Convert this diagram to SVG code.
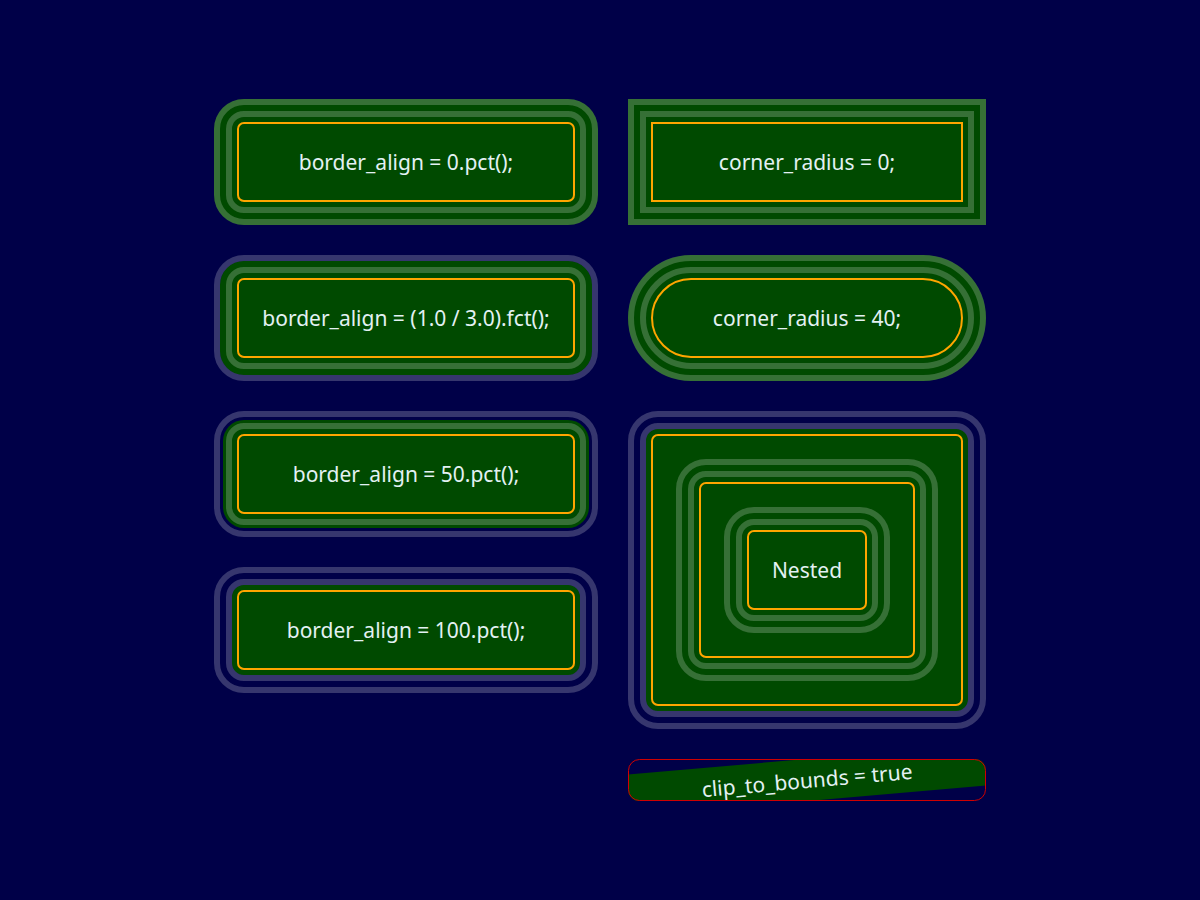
<svg xmlns="http://www.w3.org/2000/svg" width="1200" height="900" viewBox="0 0 1200 900">
<defs>
<style>
.fill{fill:#004a00}
.band{fill:none;stroke:#ffffff;stroke-opacity:0.21;stroke-width:6}
.orange{fill:none;stroke:#ffa500;stroke-width:2}
.label{font-family:"Noto Sans","Open Sans",sans-serif;font-size:21px;fill:#e3f1f3;text-anchor:middle}
</style>
<clipPath id="clipBox">
<rect x="628" y="759" width="358" height="42" rx="11"/>
</clipPath>
</defs>
<rect x="0" y="0" width="1200" height="900" fill="#000048"/>

<g id="align-0">
<rect class="fill" x="214" y="99" width="384" height="126" rx="30"/>
<rect class="band" x="217" y="102" width="378" height="120" rx="27"/>
<rect class="band" x="229" y="114" width="354" height="96" rx="15"/>
<rect class="orange" x="238" y="123" width="336" height="78" rx="6"/>
<text class="label" x="406" y="170">border_align = 0.pct();</text>
</g>

<g id="align-third">
<rect class="fill" x="220" y="261" width="372" height="114" rx="24"/>
<rect class="band" x="217" y="258" width="378" height="120" rx="27"/>
<rect class="band" x="229" y="270" width="354" height="96" rx="15"/>
<rect class="orange" x="238" y="279" width="336" height="78" rx="6"/>
<text class="label" x="406" y="326">border_align = (1.0 / 3.0).fct();</text>
</g>

<g id="align-50">
<rect class="fill" x="223" y="420" width="366" height="108" rx="21"/>
<rect class="band" x="217" y="414" width="378" height="120" rx="27"/>
<rect class="band" x="229" y="426" width="354" height="96" rx="15"/>
<rect class="orange" x="238" y="435" width="336" height="78" rx="6"/>
<text class="label" x="406" y="482">border_align = 50.pct();</text>
</g>

<g id="align-100">
<rect class="fill" x="232" y="585" width="348" height="90" rx="12"/>
<rect class="band" x="217" y="570" width="378" height="120" rx="27"/>
<rect class="band" x="229" y="582" width="354" height="96" rx="15"/>
<rect class="orange" x="238" y="591" width="336" height="78" rx="6"/>
<text class="label" x="406" y="638">border_align = 100.pct();</text>
</g>

<g id="corner-0">
<rect class="fill" x="628" y="99" width="358" height="126"/>
<rect class="band" x="631" y="102" width="352" height="120"/>
<rect class="band" x="643" y="114" width="328" height="96"/>
<rect class="orange" x="652" y="123" width="310" height="78"/>
<text class="label" x="807" y="170">corner_radius = 0;</text>
</g>

<g id="corner-40">
<rect class="fill" x="628" y="255" width="358" height="126" rx="63"/>
<rect class="band" x="631" y="258" width="352" height="120" rx="60"/>
<rect class="band" x="643" y="270" width="328" height="96" rx="48"/>
<rect class="orange" x="652" y="279" width="310" height="78" rx="39"/>
<text class="label" x="807" y="326">corner_radius = 40;</text>
</g>

<g id="nested-outer">
<rect class="fill" x="646" y="429" width="322" height="282" rx="12"/>
<rect class="band" x="631" y="414" width="352" height="312" rx="27"/>
<rect class="band" x="643" y="426" width="328" height="288" rx="15"/>
<rect class="orange" x="652" y="435" width="310" height="270" rx="6"/>
</g>

<g id="nested-middle">
<rect class="fill" x="676" y="459" width="262" height="222" rx="30"/>
<rect class="band" x="679" y="462" width="256" height="216" rx="27"/>
<rect class="band" x="691" y="474" width="232" height="192" rx="15"/>
<rect class="orange" x="700" y="483" width="214" height="174" rx="6"/>
</g>

<g id="nested-inner">
<rect class="fill" x="724" y="507" width="166" height="126" rx="30"/>
<rect class="band" x="727" y="510" width="160" height="120" rx="27"/>
<rect class="band" x="739" y="522" width="136" height="96" rx="15"/>
<rect class="orange" x="748" y="531" width="118" height="78" rx="6"/>
<text class="label" x="807" y="578">Nested</text>
</g>

<g id="clip-to-bounds">
<g clip-path="url(#clipBox)">
<g transform="rotate(-5 807 780)">
<rect class="fill" x="628" y="759" width="358" height="42"/>
<text class="label" x="807" y="788">clip_to_bounds = true</text>
</g>
</g>
<rect x="628.5" y="759.5" width="357" height="41" rx="11" fill="none" stroke="#d00000" stroke-width="1"/>
</g>
</svg>
